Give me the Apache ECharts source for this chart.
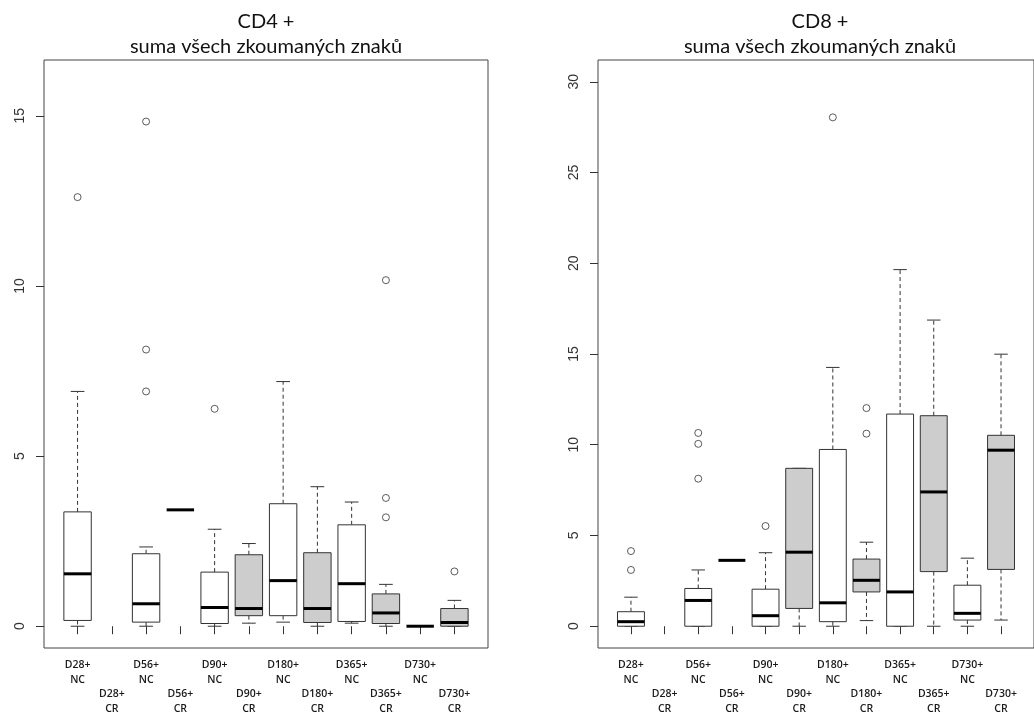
<!DOCTYPE html>
<html>
<head>
<meta charset="utf-8">
<script src="https://cdn.jsdelivr.net/npm/echarts@6/dist/echarts.min.js"></script>
<style>
html,body{margin:0;padding:0;background:#fff;}
#chart{width:1034px;height:716px;}
</style>
</head>
<body>
<div id="chart"></div>
<script>
// ---- Data ----
const categories = ['D28+\nNC','D28+\nCR','D56+\nNC','D56+\nCR','D90+\nNC','D90+\nCR',
                    'D180+\nNC','D180+\nCR','D365+\nNC','D365+\nCR','D730+\nNC','D730+\nCR'];
const titles = ['CD4 +\nsuma všech zkoumaných znaků', 'CD8 +\nsuma všech zkoumaných znaků'];
const cd4Ticks = [0, 5, 10, 15];
const cd8Ticks = [0, 5, 10, 15, 20, 25, 30];

// CD4: per category [min, Q1, median, Q3, max]; null = no data
const cd4Min    = [0,    null, 0,    3.42, 0,    0.09, 0.12, 0,    0.09, 0,    0, 0];
const cd4Q1     = [0.17, null, 0.12, 3.42, 0.08, 0.31, 0.31, 0.11, 0.14, 0.08, 0, 0];
const cd4Median = [1.54, null, 0.66, 3.42, 0.55, 0.52, 1.34, 0.52, 1.25, 0.39, 0, 0.11];
const cd4Q3     = [3.36, null, 2.13, 3.42, 1.59, 2.10, 3.60, 2.16, 2.98, 0.95, 0, 0.52];
const cd4Max    = [6.90, null, 2.33, 3.42, 2.85, 2.43, 7.19, 4.10, 3.65, 1.23, 0, 0.76];
const cd4Outliers = [[1, 12.61], [3, 14.83], [3, 8.13], [3, 6.90], [5, 6.39],
                     [10, 10.17], [10, 3.77], [10, 3.20], [12, 1.61]];

// CD8
const cd8Min    = [0,    null, 0,    3.63, 0,    0,    0,     0.31, 0,     0,     0,    0.34];
const cd8Q1     = [0,    null, 0,    3.63, 0,    0.98, 0.25,  1.89, 0,     3.01,  0.34, 3.13];
const cd8Median = [0.25, null, 1.42, 3.63, 0.58, 4.08, 1.29,  2.53, 1.89,  7.40,  0.71, 9.70];
const cd8Q3     = [0.80, null, 2.08, 3.63, 2.04, 8.70, 9.74,  3.70, 11.69, 11.60, 2.26, 10.52];
const cd8Max    = [1.60, null, 3.10, 3.63, 4.05, 8.70, 14.26, 4.63, 19.65, 16.87, 3.75, 14.99];
const cd8Outliers = [[1, 4.14], [1, 3.10], [3, 10.65], [3, 10.05], [3, 8.13], [5, 5.52],
                     [7, 28.04], [8, 12.02], [8, 10.61]];

// ---- Build ----
const positions = categories.map((c, i) => i + 1);
function boxData(mn, q1, md, q3, mx) {
  const out = [];
  categories.forEach((c, i) => {
    if (md[i] === null) return;
    out.push([i + 1, mn[i], q1[i], md[i], q3[i], mx[i]]);
  });
  return out;
}
const STROKE = '#333';
function renderBox(params, api) {
  const x = api.value(0);
  const mn = api.value(1), q1 = api.value(2), md = api.value(3), q3 = api.value(4), mx = api.value(5);
  const idx = Math.round(x) - 1;
  const isCR = /CR$/.test(categories[idx]);
  const w = api.size([0.8, 0])[0];
  const hw = w / 2, sw = w / 4;
  const p = v => api.coord([x, v]);
  const pMn = p(mn), pQ1 = p(q1), pMd = p(md), pQ3 = p(q3), pMx = p(mx);
  const cx = pMd[0];
  const dash = {stroke: STROKE, lineWidth: 1, lineDash: [4, 3]};
  const solid = {stroke: STROKE, lineWidth: 1};
  const children = [];
  if (mx !== q3 || mn !== q1 || q1 !== q3) {
    children.push({type: 'line', shape: {x1: cx, y1: pQ3[1], x2: cx, y2: pMx[1]}, style: dash});
    children.push({type: 'line', shape: {x1: cx, y1: pQ1[1], x2: cx, y2: pMn[1]}, style: dash});
    children.push({type: 'line', shape: {x1: cx - sw, y1: pMx[1], x2: cx + sw, y2: pMx[1]}, style: solid});
    children.push({type: 'line', shape: {x1: cx - sw, y1: pMn[1], x2: cx + sw, y2: pMn[1]}, style: solid});
    children.push({type: 'rect', shape: {x: cx - hw, y: pQ3[1], width: w, height: pQ1[1] - pQ3[1]},
                   style: {fill: isCR ? '#cdcdcd' : '#fff', stroke: STROKE, lineWidth: 1}});
  }
  children.push({type: 'line', shape: {x1: cx - hw, y1: pMd[1], x2: cx + hw, y2: pMd[1]},
                 style: {stroke: '#000', lineWidth: 3}});
  return {type: 'group', children: children};
}

function xAxisDef(gi) {
  return {
    type: 'value', gridIndex: gi, min: 0.02, max: 12.98,
    axisLine: {show: false}, splitLine: {show: false},
    axisTick: {show: true, customValues: positions, length: 8, lineStyle: {color: STROKE}},
    axisLabel: {
      customValues: positions, margin: 10, fontSize: 10.5, lineHeight: 14.5,
      fontFamily: 'Open Sans', fontWeight: 600, color: '#1a1a1a',
      formatter: v => {
        const i = Math.round(v) - 1;
        const t = categories[i] || '';
        return (i % 2 === 1) ? '\n\n' + t : t;
      }
    }
  };
}
function yAxisDef(gi, ticks, top) {
  const ext = (top - 0) * 0.04;
  return {
    type: 'value', gridIndex: gi, min: -ext, max: top + ext,
    axisLine: {show: false}, splitLine: {show: false},
    axisTick: {show: true, customValues: ticks, length: 8, lineStyle: {color: STROKE}},
    axisLabel: {customValues: ticks, rotate: 90, margin: 17, fontSize: 14,
                fontFamily: 'Liberation Sans', color: '#333'}
  };
}

const titleStyle = {fontFamily: 'Lato', fontSize: 20, fontWeight: 'normal', fill: '#111',
                    lineHeight: 25, align: 'center', verticalAlign: 'top'};
const outlierStyle = {color: '#fff', borderColor: STROKE, borderWidth: 1};
const chart = echarts.init(document.getElementById('chart'));
chart.setOption({
  animation: false,
  backgroundColor: '#fff',
  graphic: [
    {type: 'text', x: 266, y: 9, style: Object.assign({text: titles[0]}, titleStyle)},
    {type: 'text', x: 820, y: 9, style: Object.assign({text: titles[1]}, titleStyle)}
  ],
  grid: [
    {left: 44, top: 60, width: 444, height: 592, show: true, borderColor: '#444', borderWidth: 1, backgroundColor: 'transparent'},
    {left: 598, top: 60, width: 444, height: 592, show: true, borderColor: '#444', borderWidth: 1, backgroundColor: 'transparent'}
  ],
  xAxis: [xAxisDef(0), xAxisDef(1)],
  yAxis: [yAxisDef(0, cd4Ticks, 16), yAxisDef(1, cd8Ticks, 30)],
  series: [
    {type: 'custom', xAxisIndex: 0, yAxisIndex: 0, renderItem: renderBox,
     encode: {x: 0, y: [1, 2, 3, 4, 5]}, data: boxData(cd4Min, cd4Q1, cd4Median, cd4Q3, cd4Max)},
    {type: 'scatter', xAxisIndex: 0, yAxisIndex: 0, symbol: 'circle', symbolSize: 7,
     itemStyle: outlierStyle, data: cd4Outliers},
    {type: 'custom', xAxisIndex: 1, yAxisIndex: 1, renderItem: renderBox,
     encode: {x: 0, y: [1, 2, 3, 4, 5]}, data: boxData(cd8Min, cd8Q1, cd8Median, cd8Q3, cd8Max)},
    {type: 'scatter', xAxisIndex: 1, yAxisIndex: 1, symbol: 'circle', symbolSize: 7,
     itemStyle: outlierStyle, data: cd8Outliers}
  ]
});
</script>
</body>
</html>
